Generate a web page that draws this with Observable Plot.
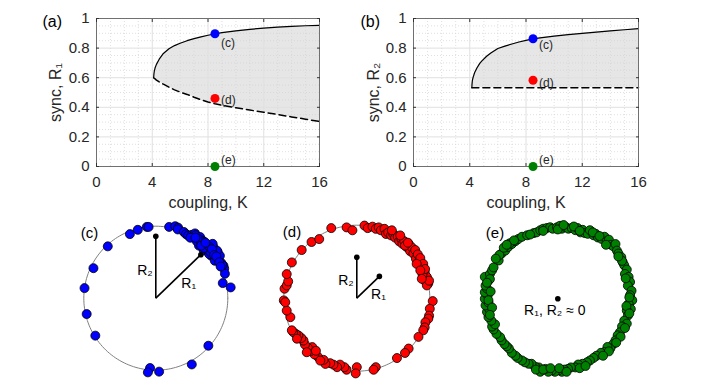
<!DOCTYPE html>
<html><head><meta charset="utf-8">
<script src="https://cdn.jsdelivr.net/npm/d3@7"></script>
<script src="https://cdn.jsdelivr.net/npm/@observablehq/plot@0.6"></script>
<style>
html,body{margin:0;padding:0;background:#fff;}
#root{position:relative;width:706px;height:388px;overflow:hidden;background:#fff;}
#root > div{position:absolute;}
#root svg{background:transparent !important;display:block;}
</style></head><body><div id="root"></div>
<script>
// ---------- data ----------
const xTicks = [0, 4, 8, 12, 16];
const yTicks = [0, 0.2, 0.4, 0.6, 0.8, 1];
const xMinor = [1, 2, 3, 5, 6, 7, 9, 10, 11, 13, 14, 15];
const yMinor = [0.05, 0.1, 0.15, 0.25, 0.3, 0.35, 0.45, 0.5, 0.55, 0.65, 0.7, 0.75, 0.85, 0.9, 0.95];

// panel (a): sync R1 vs coupling K
const couplingA = [4.1, 4.12, 4.15, 4.2, 4.3, 4.5, 4.8, 5.2, 5.6, 6, 6.5, 7, 7.5, 8, 8.5, 9, 10, 11, 12, 13, 14, 15, 16];
const r1Stable = [0.6, 0.625, 0.645, 0.665, 0.69, 0.725, 0.764, 0.796, 0.817, 0.833, 0.85, 0.864, 0.876, 0.887, 0.896, 0.904, 0.917, 0.927, 0.935, 0.942, 0.947, 0.951, 0.954];
const r1Unstable = [0.6, 0.598, 0.596, 0.592, 0.584, 0.572, 0.556, 0.536, 0.518, 0.503, 0.487, 0.468, 0.451, 0.436, 0.424, 0.414, 0.397, 0.381, 0.367, 0.351, 0.335, 0.32, 0.304];

// panel (b): sync R2 vs coupling K
const couplingB = [4.15, 4.16, 4.18, 4.2, 4.25, 4.35, 4.5, 4.7, 4.85, 5.2, 5.5, 6, 6.5, 7, 7.5, 8, 8.5, 9, 10, 11, 12, 13, 14, 15, 16];
const r2Stable = [0.532, 0.555, 0.575, 0.588, 0.606, 0.635, 0.664, 0.695, 0.712, 0.745, 0.767, 0.797, 0.813, 0.828, 0.841, 0.852, 0.862, 0.869, 0.881, 0.891, 0.9, 0.908, 0.916, 0.924, 0.931];
const r2Unstable = [0.532, 0.532, 0.532, 0.532, 0.532, 0.532, 0.532, 0.532, 0.532, 0.532, 0.532, 0.532, 0.532, 0.532, 0.532, 0.532, 0.532, 0.532, 0.532, 0.532, 0.532, 0.532, 0.532, 0.532, 0.532];

// highlighted states
const stateK = 8.5;
const stateNames = ["(c)", "(d)", "(e)"];
const stateColors = ["#0000ff", "#ff0000", "#008000"];
const stateR1 = [0.897, 0.46, 0];
const stateR2 = [0.863, 0.583, 0];

// oscillator phases on the unit circle [cos, sin] (read from the snapshots)
const phasesC = [
[-0.36,0.89],[-0.25,0.95],[-0.125,0.99],[-0.10,0.99],[0.185,0.99],[0.27,1.0],[0.31,0.98],[0.305,0.955],
[-0.667,0.72],[-0.866,0.417],[-0.99,0.14],[-0.96,-0.22],[-0.84,-0.52],[-0.08,-0.97],[-0.11,-1.03],[0.046,-1.02],
[0.5,-0.92],[0.73,-0.66],[0.93,0.21],[1.04,0.15],
[0.39,0.92],[0.42,0.89],[0.45,0.87],[0.5,0.88],[0.52,0.86],[0.545,0.9],[0.555,0.875],[0.48,0.84],[0.59,0.82],
[0.615,0.85],[0.65,0.8],[0.63,0.76],[0.675,0.78],[0.71,0.745],[0.685,0.71],[0.73,0.72],[0.755,0.685],[0.72,0.66],
[0.78,0.65],[0.80,0.71],[0.815,0.615],[0.77,0.59],[0.83,0.57],[0.86,0.64],[0.87,0.53],[0.82,0.52],[0.89,0.59],
[0.91,0.49],[0.94,0.45],[0.95,0.41],[0.96,0.34],[0.925,0.455],[0.665,0.665],[0.6,0.73],[0.57,0.79],[0.74,0.615],
[0.85,0.66],[0.79,0.755],[0.66,0.72],[0.70,0.69],[0.68,0.75],[0.72,0.70],[0.74,0.67],[0.64,0.78],[0.62,0.80],
[0.76,0.64],[0.70,0.73],[0.67,0.70],[0.75,0.71],[0.78,0.68],[0.58,0.83],[0.55,0.84],[0.81,0.60],[0.84,0.58],
[0.88,0.50],[0.90,0.44],[0.63,0.73],[0.69,0.77]
];
const phasesD = [
[0.105,0.995],[0.15,0.96],[0.215,0.98],[0.26,0.95],[0.30,0.97],[0.33,0.93],[0.38,0.95],[0.40,0.88],[0.43,0.90],
[0.47,0.86],[0.50,0.88],[0.525,0.83],[0.56,0.845],[0.58,0.78],[0.61,0.81],[0.625,0.745],[0.65,0.78],[0.685,0.70],
[0.71,0.745],[0.73,0.645],[0.75,0.70],[0.775,0.61],[0.80,0.66],[0.81,0.54],[0.835,0.60],[0.845,0.49],[0.87,0.55],
[0.88,0.425],[0.91,0.47],[0.93,0.355],[0.96,0.29],[0.94,0.23],[0.98,0.205],[0.96,0.175],[0.99,0.24],[0.90,0.33],
[0.935,0.40],[0.82,0.47],[0.66,0.72],[0.595,0.86],[0.48,0.93],[0.70,0.76],[0.87,0.38],[0.89,0.265],
[1.04,-0.04],[1.00,-0.145],[0.99,-0.24],[0.98,-0.28],[0.94,-0.33],[0.93,-0.40],[0.91,-0.44],[0.845,-0.53],
[0.71,-0.69],[0.66,-0.75],[0.55,-0.82],[0.26,-0.945],[0.23,-0.98],
[0.00,-0.945],[-0.015,-1.03],[-0.14,-0.98],[-0.17,-0.945],[-0.23,-0.91],[-0.27,-0.945],[-0.32,-0.91],[-0.365,-0.89],
[-0.43,-0.90],[-0.455,-0.845],
[-0.535,-0.80],[-0.58,-0.77],[-0.625,-0.72],[-0.61,-0.67],[-0.67,-0.68],[-0.71,-0.635],[-0.73,-0.58],[-0.76,-0.545],
[-0.80,-0.51],[-0.835,-0.49],[-0.87,-0.465],[-0.89,-0.44],[-0.82,-0.555],[-0.685,-0.74],[-0.56,-0.72],[-0.50,-0.855],
[-0.91,-0.26],[-0.96,-0.17],[-1.00,-0.03],[-0.98,-0.055],[-0.99,0.13],[-0.96,0.175],[-0.94,0.23],[-0.96,0.33],[-0.89,0.49],
[-0.755,0.66],[-0.62,0.77],[-0.515,0.81],[-0.35,0.96],[-0.14,0.97],[-0.06,0.93]
];
const phasesE = [
[-0.33,0.90],[-0.29,0.91],[-0.24,0.94],[-0.20,0.96],[-0.15,0.97],[-0.105,0.98],[-0.07,0.96],[-0.01,0.98],[0.03,1.00],
[0.055,0.96],[0.11,0.98],[0.145,0.96],[0.19,0.97],[0.24,0.94],[0.27,0.97],[0.31,0.91],[0.34,0.945],[0.37,0.90],
[0.41,0.89],[0.44,0.94],[0.49,0.87],[0.52,0.89],[0.55,0.84],[0.60,0.82],[0.64,0.85],[0.67,0.79],[0.70,0.81],
[0.73,0.74],[0.76,0.72],[0.79,0.75],[0.81,0.66],[0.83,0.62],[0.87,0.57],[0.89,0.50],[0.91,0.46],[0.945,0.40],
[0.92,0.34],[0.97,0.30],[0.99,0.23],[0.96,0.18],[1.01,0.11],[0.99,0.05],[1.02,-0.02],[0.97,-0.07],[1.00,-0.14],
[0.945,-0.16],[0.96,-0.23],[0.91,-0.30],[0.945,-0.34],[0.88,-0.38],[0.85,-0.46],[0.82,-0.50],[0.79,-0.57],
[0.76,-0.62],[0.72,-0.68],[0.68,-0.66],[0.64,-0.73],[0.59,-0.74],[0.53,-0.78],[0.49,-0.81],[0.44,-0.845],
[0.40,-0.87],[0.34,-0.89],[0.28,-0.90],[0.24,-0.94],[0.18,-0.94],[0.14,-0.96],[0.09,-0.97],[0.055,-1.00],
[0.01,-0.98],[-0.04,-1.00],[-0.08,-0.98],[-0.13,-1.00],[-0.17,-0.96],[-0.24,-1.00],[-0.26,-0.94],[-0.31,-0.93],
[-0.36,-0.89],[-0.40,-0.89],[-0.45,-0.87],[-0.49,-0.845],[-0.55,-0.81],[-0.58,-0.78],[-0.63,-0.74],[-0.67,-0.68],
[-0.70,-0.65],[-0.73,-0.62],[-0.77,-0.57],[-0.79,-0.525],[-0.84,-0.48],[-0.88,-0.42],[-0.90,-0.38],[-0.86,-0.35],
[-0.91,-0.30],[-0.95,-0.25],[-0.97,-0.18],[-0.94,-0.14],[-0.99,-0.09],[-0.95,-0.05],[-1.00,0.00],[-0.96,0.05],
[-1.00,0.09],[-0.97,0.14],[-0.99,0.18],[-0.95,0.25],[-1.00,0.30],[-0.93,0.34],[-0.90,0.39],[-0.88,0.43],
[-0.81,0.525],[-0.77,0.62],[-0.72,0.66],[-0.68,0.71],[-0.63,0.75],[-0.58,0.79],[-0.54,0.82],[-0.49,0.85],
[-0.42,0.87],[-0.38,0.88],
[-0.93,0.27],[-0.97,0.22],[-0.92,0.10],[-0.95,-0.02],[-0.90,-0.12],[-0.93,-0.22],[-0.80,0.60],[-0.74,0.70],
[-0.66,0.76],[-0.85,0.55],[-0.60,0.80],[-0.70,0.74],[-0.20,0.93],[0.00,0.95],[0.08,1.01],[0.22,0.99],[0.30,0.93],
[0.48,0.91],[-0.30,-0.97],[-0.20,-0.97],[-0.10,-0.95],[0.02,-0.95],[0.12,-1.00],[0.30,-0.95],[0.38,-0.92],
[0.93,0.28],[0.98,0.02],[0.94,-0.10],[0.98,-0.20],[0.92,-0.40],[0.86,-0.52],[0.80,-0.60],[0.70,-0.72],
[0.62,-0.78],[0.88,0.52],[0.83,0.58],[0.66,0.74],[0.57,0.86]
];

// order parameters shown as vectors in the snapshots
const orderR1 = [0.87, 0.43, 0];
const orderPsi1 = [44, 44, 0];
const orderR2 = [0.86, 0.56, 0];
const orderPsi2 = [90, 90, 0];

// ---------- drawing ----------
const FONT = '"Liberation Sans", Arial, Helvetica, sans-serif';
const root = document.getElementById("root");
function place(el, left, top, w, h) {
  const d = document.createElement("div");
  d.style.left = left + "px"; d.style.top = top + "px";
  d.style.width = w + "px"; d.style.height = h + "px";
  d.appendChild(el); root.appendChild(d);
}

function topPanel(o) {
  const rows = o.K.map((k, i) => ({k, up: o.up[i], lo: o.lo[i]}));
  const pts = stateNames.map((n, i) => ({k: stateK, r: o.R[i], n, c: stateColors[i]}));
  const gridMinor = {stroke: "#d2d2d2", strokeOpacity: 1, strokeWidth: 0.7, strokeDasharray: "1,2"};
  const gridMajor = {stroke: "#e0e0e0", strokeOpacity: 1, strokeWidth: 1};
  const tickStyle = {fill: "none", stroke: "#333", tickSize: 3};
  return Plot.plot({
    width: 330, height: 212,
    marginLeft: o.ml, marginRight: o.mr, marginTop: 18, marginBottom: 46,
    x: {domain: [0, 16], label: null},
    y: {domain: [0, 1], label: null},
    style: {fontFamily: FONT, fontSize: "15px", color: "#262626", background: "transparent"},
    marks: [
      Plot.areaY(rows, {x: "k", y1: "lo", y2: "up", fill: "#e6e6e6"}),
      Plot.gridX(xMinor, gridMinor),
      Plot.gridY(yMinor, gridMinor),
      Plot.gridX(xTicks, gridMajor),
      Plot.gridY(yTicks, gridMajor),
      Plot.line(rows, {x: "k", y: "up", stroke: "#000", strokeWidth: 1.2}),
      Plot.line(rows, {x: "k", y: "lo", stroke: "#000", strokeWidth: 1.5, strokeDasharray: "7,4"}),
      Plot.frame({stroke: "#707070", strokeWidth: 1}),
      Plot.axisX(xTicks, {anchor: "bottom", dy: -3, ...tickStyle}),
      Plot.axisX(xTicks, {anchor: "top", dy: 3, ...tickStyle}),
      Plot.axisY(yTicks, {anchor: "left", dx: 3, ...tickStyle}),
      Plot.axisY(yTicks, {anchor: "right", dx: -3, ...tickStyle}),
      Plot.axisX(xTicks, {anchor: "bottom", tickSize: 0, tickPadding: 10, fill: "#262626", fontSize: 15}),
      Plot.axisY(yTicks, {anchor: "left", tickSize: 0, tickPadding: 7, tickFormat: d => String(d), fill: "#262626", fontSize: 15}),
      ...pts.map((p, i) => Plot.dot([p], {x: "k", y: "r", r: 4.5, fill: p.c, stroke: "none"})),
      ...pts.map((p, i) => Plot.text([p], {x: "k", y: "r", text: "n", dx: 6, dy: o.labelDy[i], textAnchor: "start", lineAnchor: "middle", fontSize: 12, fill: "#262626"})),
      Plot.text(["coupling, K"], {frameAnchor: "bottom", dy: 36, lineAnchor: "middle", textAnchor: "middle", fontSize: 16, fill: "#262626"}),
      Plot.text([o.ylabel], {frameAnchor: "left", dx: o.ylabDx, rotate: -90, lineAnchor: "middle", textAnchor: "middle", fontSize: 16, fill: "#262626"}),
      Plot.text([o.tag], {frameAnchor: "top-left", dx: o.tagDx, dy: 3, textAnchor: "start", lineAnchor: "middle", fontSize: 16, fill: "#000"})
    ]
  });
}

const circleShape = d3.range(0, 361, 2).map(a => ({x: Math.cos(a * Math.PI / 180), y: Math.sin(a * Math.PI / 180)}));

function ringPanel(o) {
  const i = o.idx;
  const marks = [
    Plot.line(circleShape, {x: "x", y: "y", stroke: "#808080", strokeWidth: 1}),
    Plot.dot(o.phases, {x: d => d[0], y: d => d[1], r: 4.5, fill: o.color, stroke: "#000", strokeWidth: 0.8})
  ];
  if (orderR1[i] > 0) {
    const a1 = orderPsi1[i] * Math.PI / 180, a2 = orderPsi2[i] * Math.PI / 180;
    const vecs = [
      {x2: orderR1[i] * Math.cos(a1), y2: orderR1[i] * Math.sin(a1), lab: "R\u2081"},
      {x2: orderR2[i] * Math.cos(a2), y2: orderR2[i] * Math.sin(a2), lab: "R\u2082"}
    ];
    marks.push(
      Plot.link(vecs, {x1: 0, y1: 0, x2: "x2", y2: "y2", stroke: "#000", strokeWidth: 1.6}),
      Plot.dot(vecs, {x: "x2", y: "y2", r: 2.8, fill: "#000"}),
      Plot.text([vecs[0]], {x: d => d.x2 / 2, y: d => d.y2 / 2, text: "lab", dx: 3, dy: 7, textAnchor: "start", lineAnchor: "middle", fontSize: 14, fill: "#000"}),
      Plot.text([vecs[1]], {x: d => d.x2 / 2, y: d => d.y2 / 2, text: "lab", dx: -3, dy: 3, textAnchor: "end", lineAnchor: "middle", fontSize: 14, fill: "#000"})
    );
  } else {
    marks.push(
      Plot.dot([{x: 0, y: 0}], {x: "x", y: "y", r: 2.8, fill: "#000"}),
      Plot.text([{x: 0, y: 0}], {x: "x", y: "y", text: () => "R\u2081, R\u2082 \u2248 0", dx: -3, dy: 12, textAnchor: "middle", lineAnchor: "middle", fontSize: 14, fill: "#000"})
    );
  }
  marks.push(Plot.text([o.tag], {frameAnchor: "top-left", dx: o.tagDx, dy: 7, textAnchor: "start", lineAnchor: "middle", fontSize: 15, fill: "#000"}));
  return Plot.plot({
    width: 200, height: 176,
    marginLeft: o.ml, marginRight: o.mr, marginTop: o.mt, marginBottom: o.mb,
    x: {domain: [-1, 1], axis: null},
    y: {domain: [-1, 1], axis: null},
    style: {fontFamily: FONT, background: "transparent"},
    marks
  });
}

place(topPanel({K: couplingA, up: r1Stable, lo: r1Unstable, R: stateR1, ylabel: "sync, R\u2081", tag: "(a)",
  ml: 96, mr: 11, ylabDx: -41, tagDx: -54, labelDy: [9, 2, -6]}), 0, 0, 330, 212);
place(topPanel({K: couplingB, up: r2Stable, lo: r2Unstable, R: stateR2, ylabel: "sync, R\u2082", tag: "(b)",
  ml: 83, mr: 22, ylabDx: -40, tagDx: -53, labelDy: [6, 3, -6]}), 330, 0, 330, 212);

place(ringPanel({idx: 0, phases: phasesC, color: "#0000ff", tag: "(c)", tagDx: -3, ml: 28.3, mr: 27.7, mt: 13.7, mb: 18.3}), 55, 212, 200, 176);
place(ringPanel({idx: 1, phases: phasesD, color: "#ff0000", tag: "(d)", tagDx: -1, ml: 27.3, mr: 26.7, mt: 12.7, mb: 17.3}), 256, 212, 200, 176);
place(ringPanel({idx: 2, phases: phasesE, color: "#008000", tag: "(e)", tagDx: 1, ml: 27.3, mr: 26.7, mt: 13.3, mb: 16.7}), 457, 212, 200, 176);
</script>
</body></html>
